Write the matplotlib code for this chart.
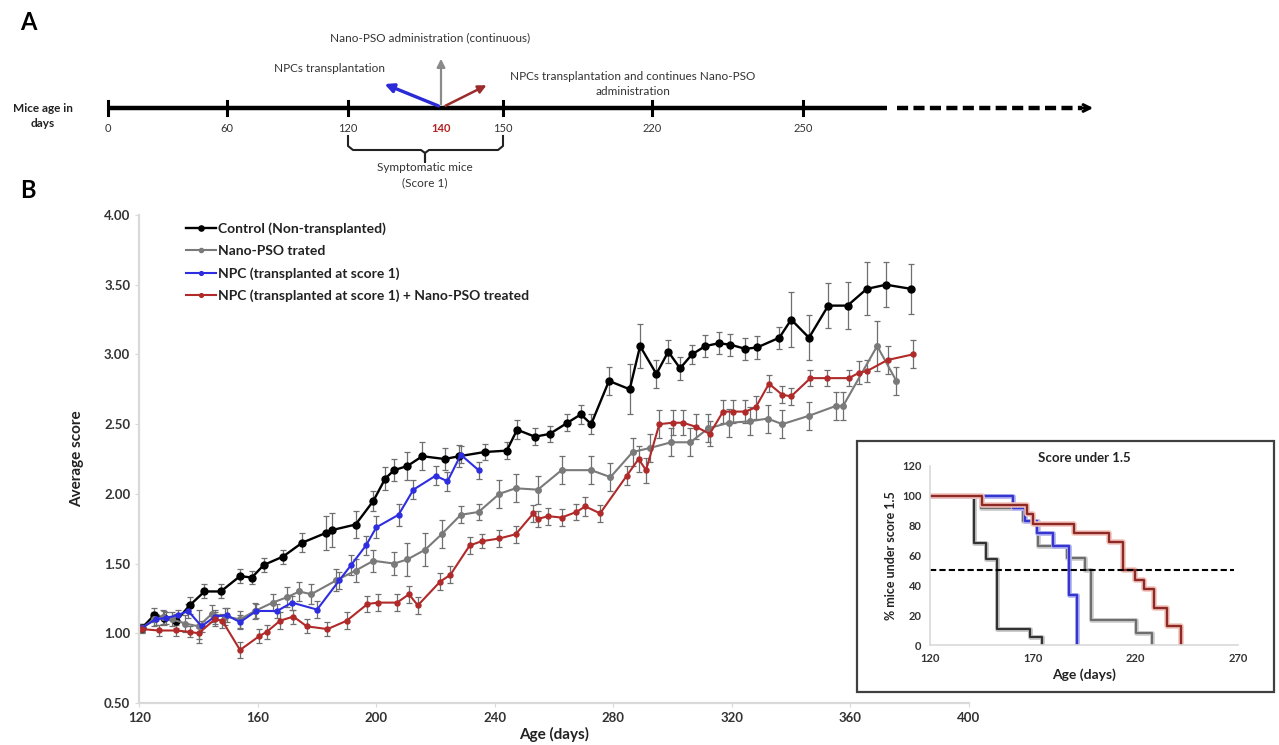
import matplotlib
matplotlib.use("Agg")
import matplotlib.pyplot as plt
from matplotlib.patches import Rectangle

plt.rcParams["font.family"] = ["Lato", "DejaVu Sans"]

# ---- panel B data: average score vs age (days) ----
ctrl_days = [121, 125, 128.5, 132.5, 137, 142, 147.5, 154, 158, 162,
             168.5, 175, 183, 185, 193, 199, 203, 206, 210.5, 215.5,
             223, 228, 236.5, 244, 247.5, 253.5, 258.5, 264.5, 269, 272.5,
             278.5, 285.5, 289, 294.5, 298.5, 302.5, 306.5, 311, 315.5, 319.5,
             324.5, 328.5, 336, 340, 346, 352.5, 359, 365.5, 372, 380.5]
ctrl_score = [1.04, 1.13, 1.11, 1.09, 1.20, 1.30, 1.30, 1.41, 1.40, 1.49,
              1.55, 1.65, 1.72, 1.74, 1.78, 1.95, 2.11, 2.17, 2.20, 2.27,
              2.25, 2.27, 2.30, 2.31, 2.46, 2.41, 2.43, 2.51, 2.57, 2.50,
              2.81, 2.75, 3.06, 2.86, 3.02, 2.90, 3.00, 3.06, 3.08, 3.07,
              3.04, 3.05, 3.12, 3.25, 3.12, 3.35, 3.35, 3.47, 3.50, 3.47]
ctrl_err = [0.03, 0.05, 0.05, 0.05, 0.06, 0.05, 0.05, 0.05, 0.05, 0.05,
            0.05, 0.07, 0.12, 0.12, 0.10, 0.07, 0.08, 0.08, 0.10, 0.10,
            0.08, 0.08, 0.06, 0.06, 0.07, 0.06, 0.06, 0.06, 0.07, 0.07,
            0.10, 0.18, 0.16, 0.10, 0.08, 0.08, 0.07, 0.08, 0.08, 0.08,
            0.08, 0.08, 0.08, 0.20, 0.16, 0.16, 0.17, 0.19, 0.16, 0.18]

nano_days = [121, 125, 128, 131, 135.5, 140, 144.5, 149, 154, 159,
             165, 170, 174, 178, 186.5, 193, 199, 206, 210.5, 216.5,
             222, 228.5, 234.5, 241.5, 247, 254.5, 262.5, 272.5, 279, 286.5,
             292.5, 299.5, 306, 312, 319, 326, 332, 337, 346, 355,
             357.5, 369, 375.5]
nano_score = [1.04, 1.10, 1.12, 1.10, 1.07, 1.05, 1.14, 1.12, 1.10, 1.16,
              1.22, 1.26, 1.30, 1.28, 1.38, 1.45, 1.52, 1.50, 1.53, 1.60,
              1.71, 1.85, 1.87, 2.00, 2.04, 2.03, 2.17, 2.17, 2.12, 2.30,
              2.33, 2.37, 2.37, 2.47, 2.51, 2.52, 2.54, 2.50, 2.56, 2.63,
              2.63, 3.06, 2.81]
nano_err = [0.03, 0.05, 0.05, 0.05, 0.06, 0.12, 0.06, 0.06, 0.06, 0.06,
            0.06, 0.07, 0.07, 0.07, 0.08, 0.08, 0.08, 0.08, 0.12, 0.12,
            0.10, 0.06, 0.06, 0.10, 0.10, 0.10, 0.10, 0.10, 0.10, 0.10,
            0.10, 0.10, 0.10, 0.10, 0.10, 0.10, 0.10, 0.10, 0.10, 0.10,
            0.10, 0.18, 0.10]

npc_days = [121, 125.5, 129, 133, 136.5, 141, 145.5, 149.5, 154, 159.5,
            166.5, 171.5, 180, 187.5, 191.5, 196.5, 200, 207.5, 212.5, 220,
            224, 228.5, 234.5]
npc_score = [1.04, 1.10, 1.11, 1.13, 1.16, 1.05, 1.12, 1.13, 1.08, 1.16,
             1.16, 1.22, 1.17, 1.38, 1.49, 1.63, 1.76, 1.85, 2.03, 2.13,
             2.09, 2.28, 2.17]
npc_err = [0.03, 0.04, 0.04, 0.04, 0.05, 0.04, 0.05, 0.05, 0.05, 0.05,
           0.05, 0.05, 0.06, 0.06, 0.07, 0.07, 0.08, 0.08, 0.07, 0.07,
           0.07, 0.06, 0.06]

combo_days = [121, 126.5, 132.5, 137, 140, 145.5, 148, 154, 160.5, 163,
              167.5, 172, 176.5, 183.5, 190, 197, 200.5, 207, 211, 214,
              221.5, 225, 231.5, 235.5, 241.5, 247, 253, 254.5, 258, 262.5,
              267.5, 270.5, 275.5, 284.5, 288.5, 291, 295.5, 300, 303.5, 308,
              312.5, 317, 320.5, 324.5, 328, 332.5, 337, 340, 346.5, 352,
              359.5, 363, 365.5, 372.5, 381]
combo_score = [1.03, 1.02, 1.02, 1.01, 1.00, 1.10, 1.09, 0.88, 0.98, 1.01,
               1.09, 1.12, 1.05, 1.03, 1.09, 1.21, 1.22, 1.22, 1.28, 1.20,
               1.37, 1.42, 1.63, 1.66, 1.68, 1.71, 1.86, 1.82, 1.84, 1.83,
               1.87, 1.91, 1.86, 2.13, 2.25, 2.17, 2.50, 2.51, 2.51, 2.48,
               2.43, 2.59, 2.59, 2.59, 2.62, 2.79, 2.71, 2.70, 2.83, 2.83,
               2.83, 2.87, 2.88, 2.96, 3.00]
combo_err = [0.03, 0.04, 0.04, 0.04, 0.04, 0.05, 0.05, 0.06, 0.05, 0.05,
             0.06, 0.05, 0.05, 0.05, 0.06, 0.06, 0.06, 0.06, 0.06, 0.06,
             0.06, 0.06, 0.06, 0.05, 0.06, 0.06, 0.06, 0.06, 0.06, 0.06,
             0.06, 0.07, 0.06, 0.07, 0.09, 0.09, 0.10, 0.09, 0.09, 0.09,
             0.09, 0.08, 0.08, 0.08, 0.08, 0.06, 0.06, 0.06, 0.06, 0.06,
             0.06, 0.08, 0.08, 0.10, 0.10]

labels = ["Control (Non-transplanted)", "Nano-PSO trated",
          "NPC (transplanted at score 1)",
          "NPC (transplanted at score 1) + Nano-PSO treated"]

# ---- inset data: % mice under score 1.5 ----
km_ctrl_days = [120, 141.5, 147.5, 152.5, 168.5, 174.5]
km_ctrl_pct = [100, 68.4, 57.9, 10.5, 5.3, 0]
km_nano_days = [120, 145, 165.5, 172.5, 186.5, 195.5, 198.5, 220.5, 228]
km_nano_pct = [100, 91.7, 83.3, 66.7, 58.3, 50, 16.7, 8.3, 0]
km_npc_days = [120, 160.5, 166.5, 172, 180, 187.5, 191.5]
km_npc_pct = [100, 91.7, 83.3, 75, 66.7, 33.3, 0]
km_combo_days = [120, 145.5, 167, 170, 190, 207, 214, 220, 224, 229, 235.5, 242]
km_combo_pct = [100, 93.75, 87.5, 81.25, 75, 68.75, 50, 43.75, 37.5, 25, 12.5, 0]
km_threshold = 50
km_threshold_end = 268

# ---- panel A timeline ----
timeline_labels = ["0", "60", "120", "140", "150", "220", "250"]

W, H = 1279, 745
fig = plt.figure(figsize=(W / 100, H / 100), dpi=100)


def frac_box(x0, y0, x1, y1):
    return [x0 / W, 1 - y1 / H, (x1 - x0) / W, (y1 - y0) / H]


# ---------------- main chart ----------------
ax = fig.add_axes(frac_box(139.3, 215, 969, 703), zorder=0)
series = [
    (ctrl_days, ctrl_score, ctrl_err, "#000000", 5, 1.7),
    (nano_days, nano_score, nano_err, "#7a7a7a", 4, 1.5),
    (npc_days, npc_score, npc_err, "#2e2ee0", 3.6, 1.5),
    (combo_days, combo_score, combo_err, "#b02a2a", 3.6, 1.5),
]
for (d, s, e, c, ms, lw), lab in zip(series, labels):
    ax.errorbar(d, s, yerr=e, color=c, lw=lw, marker="o", ms=ms,
                ecolor="#6f6f6f", elinewidth=0.9, capsize=2.5, capthick=0.9,
                label=lab)

ax.set_xlim(120, 400)
ax.set_ylim(0.5, 4.0)
ax.set_xticks(range(120, 401, 40))
ax.set_yticks([0.5 + 0.5 * i for i in range(8)])
ax.set_yticklabels([f"{0.5 + 0.5 * i:.2f}" for i in range(8)])
for side in ["top", "right"]:
    ax.spines[side].set_visible(False)
for side in ["left", "bottom"]:
    ax.spines[side].set_color("#d9d9d9")
    ax.spines[side].set_linewidth(1.6)
ax.tick_params(colors="#d9d9d9", labelcolor="#333333", labelsize=9.5, length=3)
for t in ax.get_xticklabels() + ax.get_yticklabels():
    t.set_fontweight("bold")
ax.set_xlabel("Age (days)", fontsize=11, fontweight="bold", labelpad=2, color="#222222")
ax.set_ylabel("Average score", fontsize=11, fontweight="bold", labelpad=14, color="#222222")

handles, labs = ax.get_legend_handles_labels()
handles = [h[0] for h in handles]
leg = ax.legend(handles, labs, loc="upper left", bbox_to_anchor=(0.056, 0.985),
                frameon=False, fontsize=10, handlelength=2.2, handletextpad=0.15,
                labelspacing=0.72, borderpad=0, borderaxespad=0, numpoints=1,
                markerscale=0.75)
for t in leg.get_texts():
    t.set_fontweight("bold")
    t.set_color("#222222")

# ---------------- inset ----------------
fig.add_artist(Rectangle((857 / W, 1 - 692 / H), (1274 - 857) / W, (692 - 441) / H,
                         transform=fig.transFigure, facecolor="white",
                         edgecolor="#404040", lw=1.6, zorder=1))
axi = fig.add_axes(frac_box(930, 466, 1238, 645), zorder=2)
axi.patch.set_alpha(0)
axi.step(km_ctrl_days, km_ctrl_pct, where="post", color="#c8c8c8", lw=3.5)
axi.step(km_ctrl_days, km_ctrl_pct, where="post", color="#333333", lw=1.6)
axi.step(km_nano_days, km_nano_pct, where="post", color="#d0d0d0", lw=3.5)
axi.step(km_nano_days, km_nano_pct, where="post", color="#6e6e6e", lw=1.6)
axi.step(km_npc_days, km_npc_pct, where="post", color="#b8b8f0", lw=3.5)
axi.step(km_npc_days, km_npc_pct, where="post", color="#3535d0", lw=1.7)
axi.step(km_combo_days, km_combo_pct, where="post", color="#f3c2ba", lw=4)
axi.step(km_combo_days, km_combo_pct, where="post", color="#8e2a26", lw=1.7)
axi.plot([120, km_threshold_end], [km_threshold, km_threshold], ls="--",
         color="black", lw=1.5, dashes=(3, 1.5))
axi.set_xlim(120, 270)
axi.set_ylim(0, 120)
axi.set_xticks([120, 170, 220, 270])
axi.set_yticks(range(0, 121, 20))
for side in ["top", "right"]:
    axi.spines[side].set_visible(False)
for side in ["left", "bottom"]:
    axi.spines[side].set_color("#d9d9d9")
    axi.spines[side].set_linewidth(1.2)
axi.tick_params(colors="#d9d9d9", labelcolor="#333333", labelsize=8, length=0, pad=6)
for t in axi.get_xticklabels() + axi.get_yticklabels():
    t.set_fontweight("bold")
axi.set_title("Score under 1.5", fontsize=9.5, fontweight="bold", pad=3, color="#222222")
axi.set_xlabel("Age (days)", fontsize=10, fontweight="bold", labelpad=3, color="#222222")
axi.set_ylabel("% mice under score 1.5", fontsize=9, fontweight="bold", labelpad=4,
               color="#222222")

# ---------------- panel A (schematic, pixel coordinates) ----------------
axa = fig.add_axes([0, 0, 1, 1], zorder=5)
axa.set_xlim(0, W)
axa.set_ylim(H, 0)
axa.axis("off")

tl_y = 108
tl_pos = [108, 227, 348, 441, 503, 652, 803]
axa.plot([108, 887], [tl_y, tl_y], color="black", lw=3.2, solid_capstyle="butt")
axa.plot([897, 1082], [tl_y, tl_y], color="black", lw=3.2, ls=(0, (2.5, 1.2)))
axa.annotate("", xy=(1096, tl_y), xytext=(1080, tl_y),
             arrowprops=dict(arrowstyle="->", lw=2.2, color="black", mutation_scale=12))
for lab, x in zip(timeline_labels, tl_pos):
    if lab != "140":
        axa.plot([x, x], [tl_y - 7, tl_y + 7], color="black", lw=2.2)
    axa.text(x, tl_y + 20, lab, ha="center", va="center", fontsize=8,
             color="#b22222" if lab == "140" else "#333333",
             fontweight="bold" if lab == "140" else "normal")

x140 = tl_pos[3]
axa.annotate("", xy=(x140, 56), xytext=(x140, tl_y - 1),
             arrowprops=dict(arrowstyle="-|>", lw=1.6, color="#8a8a8a", mutation_scale=12))
axa.annotate("", xy=(382, 83), xytext=(x140, tl_y - 1),
             arrowprops=dict(arrowstyle="-|>", lw=2.4, color="#2a2ad6", mutation_scale=13))
axa.annotate("", xy=(489, 84), xytext=(x140 + 2, tl_y - 1),
             arrowprops=dict(arrowstyle="-|>", lw=1.8, color="#9c2b2b", mutation_scale=12))

axa.text(430, 38, "Nano-PSO administration (continuous)", ha="center", va="center",
         fontsize=8.5, color="#333333")
axa.text(330, 68, "NPCs transplantation", ha="center", va="center",
         fontsize=8.5, color="#333333")
axa.text(633, 84, "NPCs transplantation and continues Nano-PSO\nadministration",
         ha="center", va="center", fontsize=8.5, color="#333333", linespacing=1.35)
axa.text(43, 116, "Mice age in\ndays", ha="center", va="center", fontsize=8.5,
         fontweight="bold", color="#222222", linespacing=1.4)

# brace under 120..150
bx0, bx1, bxm = tl_pos[2], tl_pos[4], 425
axa.plot([bx0, bx0, bx0 + 5, bxm - 4, bxm, bxm, bxm, bxm + 4, bx1 - 5, bx1, bx1],
         [136, 146, 150, 150, 153, 162, 153, 150, 150, 146, 136],
         color="#222222", lw=1.5)
axa.text(bxm, 175, "Symptomatic mice\n(Score 1)", ha="center", va="center",
         fontsize=8.5, color="#333333", linespacing=1.4)

axa.text(28, 22, "A", ha="center", va="center", fontsize=17, fontweight="bold")
axa.text(28, 191, "B", ha="center", va="center", fontsize=17, fontweight="bold")

fig.savefig("out.png", dpi=100)
